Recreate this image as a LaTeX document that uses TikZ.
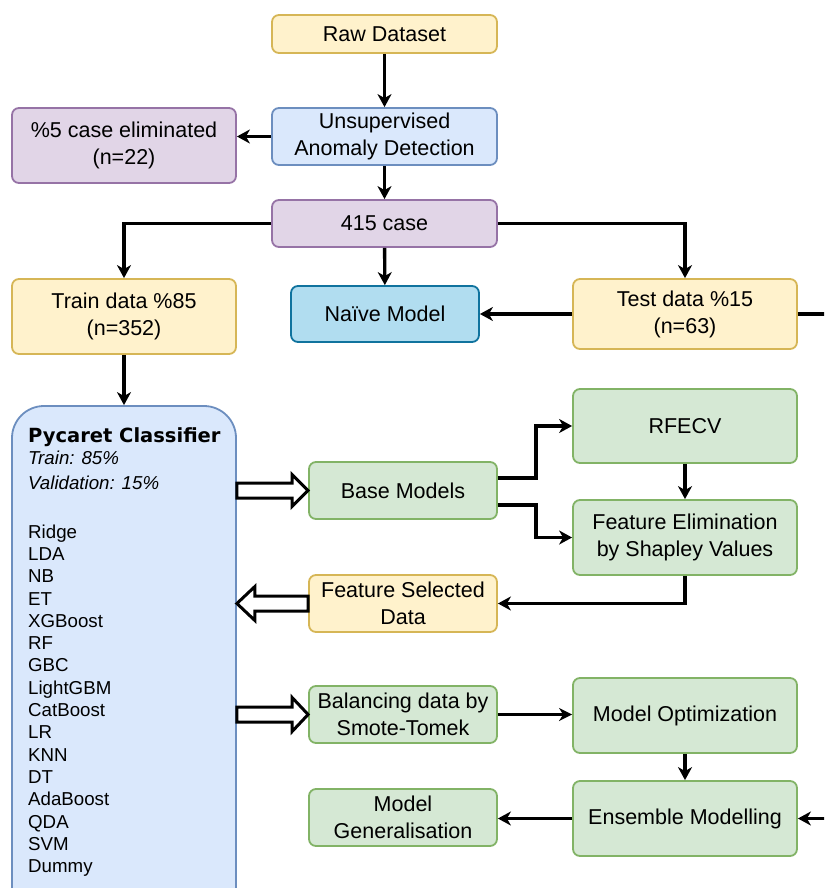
\documentclass[tikz,border=0pt]{standalone}
\usepackage{fontspec}
\setmainfont{Liberation Sans}
\newfontfamily\djv{DejaVu Sans}
\usetikzlibrary{arrows.meta,calc}
\definecolor{yfill}{HTML}{FFF2CC}
\definecolor{ydraw}{HTML}{D6B656}
\definecolor{bfill}{HTML}{DAE8FC}
\definecolor{bdraw}{HTML}{6C8EBF}
\definecolor{pfill}{HTML}{E1D5E7}
\definecolor{pdraw}{HTML}{9673A6}
\definecolor{gfill}{HTML}{D5E8D4}
\definecolor{gdraw}{HTML}{82B366}
\definecolor{nfill}{HTML}{B1DDF0}
\definecolor{ndraw}{HTML}{10739E}
\tikzset{
  box/.style={draw, line width=1.8pt, rounded corners=7pt, align=center,
    font=\fontsize{21.5}{27}\selectfont, inner sep=0pt},
  yel/.style={box, fill=yfill, draw=ydraw},
  blu/.style={box, fill=bfill, draw=bdraw},
  pur/.style={box, fill=pfill, draw=pdraw},
  grn/.style={box, fill=gfill, draw=gdraw},
  nai/.style={box, fill=nfill, draw=ndraw},
  conn/.style={line width=3.4pt, -{Stealth[length=13pt,width=14pt,inset=4pt]}},
  thin/.style={line width=2.2pt, -{Stealth[length=13pt,width=13pt,inset=4pt]}},
  blk/.style={draw=black, fill=white, line width=3pt, line join=miter}
}
\begin{document}
\begin{tikzpicture}[x=1pt,y=-1pt]
\useasboundingbox (0,0) rectangle (824,888);
\clip (0,0) rectangle (824,888);

\node[yel, minimum width=225pt, minimum height=38pt] (raw) at (384.5,34) {Raw Dataset};
\node[blu, minimum width=225pt, minimum height=57pt] (uad) at (384.5,136.5) {Unsupervised\\Anomaly Detection};
\node[pur, minimum width=224pt, minimum height=75pt] (elim) at (124,145.5) {\%5 case eliminated\\(n=22)};
\node[pur, minimum width=225pt, minimum height=47pt] (c415) at (384.5,223.5) {415 case};
\node[yel, minimum width=224pt, minimum height=75pt] (train) at (124,316.5) {Train data \%85\\(n=352)};
\node[nai, minimum width=188pt, minimum height=56pt] (naive) at (385,314) {Naïve Model};
\node[yel, minimum width=224pt, minimum height=70pt] (test) at (685,314) {Test data \%15\\(n=63)};

\node[blu, rounded corners=32pt, minimum width=224pt, minimum height=520pt] (pyc) at (124,666) {};
\node[anchor=north west, align=left, inner sep=0pt,
  font=\fontsize{18.7}{22.3}\selectfont] (pyctext) at (28,427)
  {{\djv\bfseries\fontsize{19.5}{22}\selectfont Pycaret Classifier}\\
   {\itshape Train: 85\%}\\[2.5pt]
   {\itshape Validation: 15\%}\\[26.7pt]
   Ridge\\ LDA\\ NB\\ ET\\ XGBoost\\ RF\\ GBC\\ LightGBM\\ CatBoost\\ LR\\ KNN\\ DT\\ AdaBoost\\ QDA\\ SVM\\ Dummy};

\node[grn, minimum width=188pt, minimum height=57pt] (base) at (403,490.5) {Base Models};
\node[grn, minimum width=224pt, minimum height=74pt] (rfecv) at (685,426) {RFECV};
\node[grn, minimum width=224pt, minimum height=75pt] (fe) at (685,537.5) {Feature Elimination\\by Shapley Values};
\node[yel, minimum width=188pt, minimum height=57pt] (fsd) at (403,603.5) {Feature Selected\\Data};
\node[grn, minimum width=188pt, minimum height=57pt] (bal) at (403,714.5) {Balancing data by\\Smote-Tomek};
\node[grn, minimum width=224pt, minimum height=75pt] (mopt) at (685,715.5) {Model Optimization};
\node[grn, minimum width=224pt, minimum height=75pt] (ens) at (685,818.5) {Ensemble Modelling};
\node[grn, minimum width=188pt, minimum height=57pt] (mgen) at (403,817.5) {Model\\Generalisation};

% connectors
\draw[conn] (raw) -- (uad);
\draw[conn] (uad.west) -- (uad.west -| elim.east);
\draw[conn] (uad) -- (c415);
\draw[conn] (c415.west) -| (train.north);
\draw[conn] (c415.east) -| (test.north);
\draw[conn] (c415) -- (naive);
\draw[conn] (test.west) -- (test.west -| naive.east);
\draw[conn] (test.east) -- ++(60,0) |- (ens.east);
\draw[conn] (train.south) -- (train.south |- pyc.north);
\draw[conn] ($(base.east)+(0,-12.5)$) -- ++(38,0) |- (rfecv.west);
\draw[conn] ($(base.east)+(0,14.5)$) -- ++(38,0) |- (fe.west);
\draw[conn] (rfecv) -- (fe);
\draw[conn] (fe.south) |- (fsd.east);
\draw[thin] (bal.east) -- (bal.east -| mopt.west);
\draw[conn] (mopt) -- (ens);
\draw[conn] (ens.west) -- (ens.west -| mgen.east);

% block arrows
\coordinate (a1) at (pyc.east |- base.west);
\draw[blk] ($(a1)+(0,-7.5)$) -- ($(base.west)+(-16,-7.5)$) -- ($(base.west)+(-16,-16)$)
  -- (base.west) -- ($(base.west)+(-16,16)$) -- ($(base.west)+(-16,7.5)$) -- ($(a1)+(0,7.5)$) -- cycle;
\coordinate (a2) at (pyc.east |- fsd.west);
\draw[blk] ($(fsd.west)+(0,-7.5)$) -- ($(a2)+(18,-7.5)$) -- ($(a2)+(18,-17)$)
  -- (a2) -- ($(a2)+(18,17)$) -- ($(a2)+(18,7.5)$) -- ($(fsd.west)+(0,7.5)$) -- cycle;
\coordinate (a3) at (pyc.east |- bal.west);
\draw[blk] ($(a3)+(0,-7.5)$) -- ($(bal.west)+(-16,-7.5)$) -- ($(bal.west)+(-16,-17)$)
  -- (bal.west) -- ($(bal.west)+(-16,17)$) -- ($(bal.west)+(-16,7.5)$) -- ($(a3)+(0,7.5)$) -- cycle;
\end{tikzpicture}
\end{document}
